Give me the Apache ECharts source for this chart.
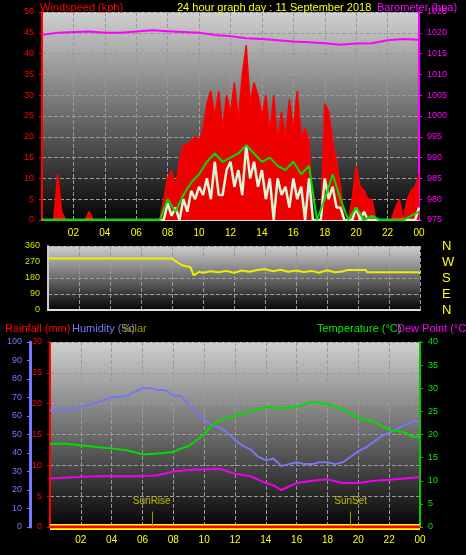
<!DOCTYPE html>
<html><head><meta charset="utf-8">
<script src="https://cdn.jsdelivr.net/npm/echarts@6/dist/echarts.min.js"></script>
<style>html,body{margin:0;background:#000}#c{width:466px;height:555px}</style>
</head><body><div id="c"></div>
<script>
// 15-minute wind gusts (kph), 0..24h
const gust = [0,0,0,0,11,2,0,0,0,0,0,0,2,0,0,0,0,0,0,0,0,0,0,0,0,0,0,0,0,0,0,5,
10,12,8,14,18,18,19,20,19,22,28,31,25,31,22,30,26,33,24,35,42,28,33,30,25,30,21,30,19,26,20,29,
22,31,20,22,19,0,0,0,28,26,19,14,8,0,0,5,13,8,7,5,5,0,0,0,0,0,3,5,0,5,7,8,11];
// 30-minute average wind (kph)
const avgWind = [0,0,0,0,0,0,0,0,0,0,0,0,0,0,0,0,5,2,6,9,11,14,16,14,15,16,18,16,14,15,13,12,14,11,13,0,5,11,5,0,3,0,1,0,0,0,0,1,2];
// 15-minute wind speed (kph)
const speed = [0,0,0,0,0,0,0,0,0,0,0,0,0,0,0,0,0,0,0,0,0,0,0,0,0,0,0,0,0,0,0,0,
4,1,3,0,5,2,7,5,8,6,10,5,14,6,6,12,14,8,12,6,18,10,14,8,12,5,10,0,10,6,8,3,
10,5,8,0,10,0,0,0,10,5,8,3,3,0,0,0,3,0,2,0,0,0,0,0,0,0,0,0,0,0,0,0,3];
const baroHours = [0,1,3,4,5,6,7,8,9,10,11,12,13,14,15,16,17,18,19,20,21,22,23,24];
const baro = [1019.5,1020,1020.3,1020,1020,1020.3,1020.6,1020.4,1020.2,1020,1019.5,1019.2,1018.7,1018.5,1018.2,1017.9,1017.7,1017.5,1017.1,1017.4,1017.5,1018.2,1018.5,1018.3];
const dirHours = [0,8,8.3,8.7,9.2,9.4,9.75,10,10.5,11,11.5,12,12.5,13,13.5,14,14.5,15,15.5,16,16.5,17,17.5,18,18.5,19,19.3,20.5,20.6,23.9,24];
const dir = [290,290,270,250,240,195,215,210,218,212,220,210,222,215,225,230,218,226,215,222,214,220,210,224,212,216,225,225,213,213,205];
const hHours = [0,0.5,1,2,3,4,5,6,6.5,7,7.5,8,8.5,9,10,10.5,11,11.5,12,12.5,13,13.5,14,14.5,15,15.5,16,16.5,17,17.5,18,18.5,19,19.5,20,20.5,21,21.5,22,23,23.5,24];
const humidity = [63,64,63,65,67,70,71,75,75,74,74,71,71,66,58,55,54,51,47,44,42,38,36,37,33,34,35,34,34,35,35,34,35,38,41,43,46,49,51,55,57,57];
const tHours = [0,1,2,3,4,5,6,7,8,8.5,9,10,10.5,11,12,13,14,15,16,16.5,17,18,19,20,21,22,23,23.5,24];
const temperature = [18,18,17.7,17.3,17,16.6,15.7,15.9,16.2,17,17.5,20,22,23,24,25,26,25.7,26,26.5,27,26.6,25.5,23.5,22.8,21,20.5,19.5,19.5];
const dHours = [0,3,4,6,7,8,9,10,11,12,13,14,14.5,15,16,17,18,19,20,21,22,23,24];
const dewPoint = [10.5,11,11,11,11.2,12,12.3,12.5,12.6,11.5,11,9.5,9,8,9.5,10,10.3,9.5,9.5,10,10.2,10.5,10.8];
const rainfall = [[0,0],[24,0]];
const solar = [[0,0],[24,0]];
const sunRise = 6.6, sunSet = 19.5;

const pair = (xs, ys) => ys.map((v,i)=>[xs[i], v]);
const step = (arr, dt) => arr.map((v,i)=>[i*dt, v]);
const bg = {type:'linear',x:0,y:0,x2:0,y2:1,colorStops:[{offset:0,color:'#d0d0d0'},{offset:1,color:'#050505'}]};
const pad = v => { const h = v%24; return (h<10?'0':'')+h; };
const gl = {show:true,lineStyle:{color:'#9a9a9a',type:'dashed',width:1}};
const xCommon = (i, lbl) => ({type:'value',gridIndex:i,min:0,max:24,interval:2,
  axisLine:{show:true,lineStyle:{color:'#ddd',width:2}},axisTick:{show:false},
  splitLine:gl,axisLabel:{show:lbl,color:'#ffff00',fontSize:10,formatter:v=>v===0?'':pad(v)}});
const F = 'Liberation Sans';
const chart = echarts.init(document.getElementById('c'));
chart.setOption({
  backgroundColor:'#000', animation:false, textStyle:{fontFamily:F},
  title:[
    {text:'Windspeed (kph)',left:35,top:-3,textStyle:{color:'#ff0000',fontSize:11,fontWeight:'normal'}},
    {text:'24 hour graph day : 11 September 2018',left:172,top:-3,textStyle:{color:'#ffff00',fontSize:11,fontWeight:'normal'}},
    {text:'Barometer (hpa)',left:372,top:-3,textStyle:{color:'#ff00ff',fontSize:11,fontWeight:'normal'}},
    {text:'Rainfall (mm)',left:0,top:318,textStyle:{color:'#ff0000',fontSize:11,fontWeight:'normal'}},
    {text:'Humidity (%)',left:67,top:318,textStyle:{color:'#7777ff',fontSize:11,fontWeight:'normal'}},
    {text:'Solar',left:116,top:318,textStyle:{color:'#999900',fontSize:11,fontWeight:'normal'}},
    {text:'Temperature (°C)',left:312,top:318,textStyle:{color:'#00ee00',fontSize:11,fontWeight:'normal'}},
    {text:'Dew Point (°C)',left:392,top:318,textStyle:{color:'#ff00ff',fontSize:11,fontWeight:'normal'}}
  ],
  grid:[
    {left:42,right:47,top:12,height:208,show:true,backgroundColor:bg,borderWidth:0},
    {left:48,right:46,top:246,height:64,show:true,backgroundColor:bg,borderWidth:0},
    {left:50,right:46,top:342,height:185,show:true,backgroundColor:bg,borderWidth:0}
  ],
  xAxis:[xCommon(0,true),xCommon(1,false),xCommon(2,true)],
  yAxis:[
    {type:'value',gridIndex:0,position:'left',min:0,max:50,interval:5,axisLine:{show:true,lineStyle:{color:'#ff0000',width:2}},
     axisTick:{show:true,length:3},axisLabel:{color:'#ff0000',fontSize:9},splitLine:gl},
    {type:'value',gridIndex:0,position:'right',min:975,max:1025,interval:5,axisLine:{show:true,lineStyle:{color:'#ff00ff',width:2}},
     axisTick:{show:true,length:3},axisLabel:{color:'#ff00ff',fontSize:9,formatter:v=>String(v)},splitLine:{show:false}},
    {type:'value',gridIndex:1,position:'left',min:0,max:360,interval:90,axisLine:{show:true,lineStyle:{color:'#ccc',width:2}},
     axisTick:{show:false},axisLabel:{color:'#dddd00',fontSize:9},splitLine:gl},
    {type:'value',gridIndex:1,position:'right',offset:14,min:0,max:360,interval:90,axisLine:{show:false},axisTick:{show:false},
     axisLabel:{color:'#ffff00',fontSize:13,formatter:v=>({0:'N',90:'E',180:'S',270:'W',360:'N'})[v]},splitLine:{show:false}},
    {type:'value',gridIndex:2,position:'left',min:0,max:30,interval:5,axisLine:{show:true,lineStyle:{color:'#ff0000',width:2}},
     axisTick:{show:true,length:3},axisLabel:{color:'#ff0000',fontSize:9},splitLine:gl},
    {type:'value',gridIndex:2,position:'left',min:0,max:100,interval:10,offset:20,axisLine:{show:true,lineStyle:{color:'#7777ff',width:3}},
     axisTick:{show:true,length:3},axisLabel:{color:'#7777ff',fontSize:9},splitLine:{show:false}},
    {type:'value',gridIndex:2,position:'right',min:0,max:40,interval:5,axisLine:{show:true,lineStyle:{color:'#00cc00',width:2}},
     axisTick:{show:true,length:3},axisLabel:{color:'#00ee00',fontSize:9},splitLine:{show:false}}
  ],
  series:[
    {type:'line',xAxisIndex:0,yAxisIndex:0,data:step(gust,0.25),showSymbol:false,lineStyle:{color:'#ff0000',width:1.5},areaStyle:{color:'#ee0000',opacity:1}},
    {type:'line',xAxisIndex:0,yAxisIndex:0,data:step(speed,0.25),showSymbol:false,lineStyle:{color:'#d8f5d8',width:2.5}},
    {type:'line',xAxisIndex:0,yAxisIndex:0,data:step(avgWind,0.5),showSymbol:false,lineStyle:{color:'#00dd00',width:2}},
    {type:'line',xAxisIndex:0,yAxisIndex:1,data:pair(baroHours,baro),showSymbol:false,lineStyle:{color:'#ff00ff',width:2}},
    {type:'line',xAxisIndex:1,yAxisIndex:2,data:pair(dirHours,dir),showSymbol:false,lineStyle:{color:'#eeee00',width:2}},
    {type:'line',xAxisIndex:2,yAxisIndex:5,data:pair(hHours,humidity),showSymbol:false,lineStyle:{color:'#7777ee',width:2}},
    {type:'line',xAxisIndex:2,yAxisIndex:6,data:pair(tHours,temperature),showSymbol:false,lineStyle:{color:'#00dd00',width:2}},
    {type:'line',xAxisIndex:2,yAxisIndex:6,data:pair(dHours,dewPoint),showSymbol:false,lineStyle:{color:'#ee00ee',width:2}},
    {type:'line',xAxisIndex:2,yAxisIndex:4,data:solar,showSymbol:false,lineStyle:{color:'#ffff00',width:6},
     markLine:{symbol:'none',silent:true,lineStyle:{color:'#999900',type:'solid',width:1},
       label:{show:true,position:'end',color:'#bbbb00',fontSize:10,formatter:p=>p.name},
       data:[[{name:'SunRise',coord:[sunRise,0]},{coord:[sunRise,2.5]}],[{name:'SunSet',coord:[sunSet,0]},{coord:[sunSet,2.5]}]]}},
    {type:'line',xAxisIndex:2,yAxisIndex:4,data:rainfall,showSymbol:false,lineStyle:{color:'#ff0000',width:3}}
  ]
});
</script></body></html>
